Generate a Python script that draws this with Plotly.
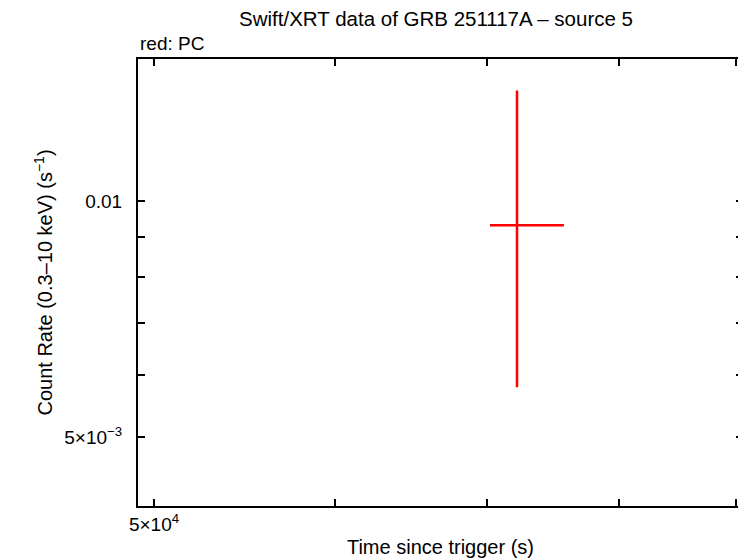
import numpy as np
import plotly.graph_objects as go

# PC mode point
time = [72140.0]
time_lo = [70200.0]
time_hi = [75640.0]
rate = [0.00932]
rate_lo = [0.00579]
rate_hi = [0.01385]

x_tickvals = [5e4, 6e4, 7e4, 8e4, 9e4]
x_ticktext = ['5×10<sup>4</sup>', '', '', '', '']
y_tickvals = [0.005, 0.006, 0.007, 0.008, 0.009, 0.01]
y_ticktext = ['5×10<sup>−3</sup>', '', '', '', '', '0.01']

t = np.array(time)
r = np.array(rate)

fig = go.Figure()
fig.add_trace(go.Scatter(
    x=t, y=r, mode='markers', marker=dict(size=1, color='red'), showlegend=False,
    error_x=dict(type='data', symmetric=False, array=np.array(time_hi) - t, arrayminus=t - np.array(time_lo),
                 color='red', thickness=2.5, width=0),
    error_y=dict(type='data', symmetric=False, array=np.array(rate_hi) - r, arrayminus=r - np.array(rate_lo),
                 color='red', thickness=2.5, width=0),
))

family = 'Liberation Sans, Arial, sans-serif'
font = dict(family=family, size=20, color='black')
axis_common = dict(type='log', showline=True, linecolor='black', linewidth=2, mirror='allticks',
                   ticks='inside', ticklen=7, tickwidth=2, tickcolor='black', showgrid=False, zeroline=False,
                   automargin=False, tickfont=dict(family=family, size=19, color='black'))

fig.update_xaxes(**axis_common, range=[4.69195, 4.9573], tickvals=x_tickvals, ticktext=x_ticktext,
                 title=dict(text='Time since trigger (s)', font=font, standoff=8))
fig.update_yaxes(**axis_common, range=[-2.389, -1.8182], tickvals=y_tickvals, ticktext=y_ticktext,
                 ticklabelstandoff=10,
                 title=dict(text='Count Rate (0.3–10 keV) (s<sup>−1</sup>)', font=font, standoff=6))

# the page body keeps its default 8px margin, so the figure is sized to the window minus that
fig.update_layout(
    width=738, height=550, template='plotly_white', plot_bgcolor='white', paper_bgcolor='white',
    margin=dict(l=130, r=3, t=51, b=52), font=font,
    title=dict(text='Swift/XRT data of GRB 251117A – source 5', x=0.58, xanchor='center', y=0.98,
               yanchor='middle', font=dict(family=family, size=20.5, color='black'), automargin=False),
)
fig.add_annotation(text='red: PC', xref='paper', yref='paper', x=0, y=1, xanchor='left', yanchor='bottom',
                   yshift=3, showarrow=False, font=dict(family=family, size=19, color='black'))

fig.write_html('out.html')
